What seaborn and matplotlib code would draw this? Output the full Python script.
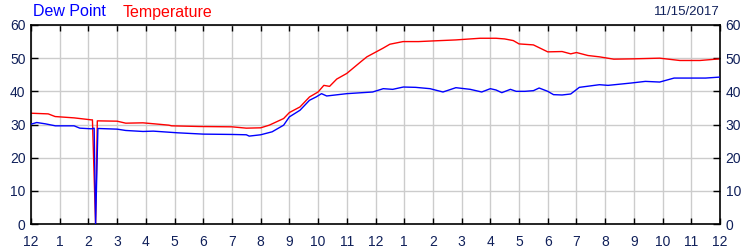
import matplotlib
matplotlib.use("Agg")
import matplotlib.pyplot as plt
import seaborn as sns
import pandas as pd

# ---- data (hours since midnight, values in °F) ----
dew_hours = [0.0, 0.2, 0.5, 0.85, 1.5, 1.7, 2.1, 2.2, 2.25, 2.33, 3.0, 3.3, 3.9, 4.26, 5.1,
             6.0, 7.0, 7.5, 7.6, 8.0, 8.4, 8.8, 9.0, 9.37, 9.7, 9.93, 10.12, 10.3, 11.0,
             11.9, 12.27, 12.6, 12.97, 13.4, 13.9, 14.35, 14.8, 15.3, 15.7, 16.0, 16.2,
             16.4, 16.7, 16.9, 17.2, 17.5, 17.7, 18.0, 18.2, 18.5, 18.8, 19.1, 19.8, 20.1,
             20.9, 21.4, 21.9, 22.4, 23.0, 23.5, 24.0]
dew_values = [30.1, 30.6, 30.2, 29.6, 29.6, 28.9, 28.7, 28.9, 0.0, 28.8, 28.6, 28.2, 27.9, 28.0,
              27.5, 27.1, 27.0, 26.9, 26.5, 26.9, 27.8, 29.8, 32.3, 34.3, 37.3, 38.3, 39.3,
              38.6, 39.3, 39.8, 40.8, 40.6, 41.3, 41.2, 40.8, 39.8, 41.1, 40.6, 39.8, 40.8,
              40.4, 39.6, 40.6, 40.0, 40.0, 40.2, 41.0, 40.0, 39.0, 38.9, 39.2, 41.2, 42.0,
              41.8, 42.5, 43.0, 42.8, 44.0, 44.0, 44.0, 44.3]

temp_hours = [0.0, 0.6, 0.84, 1.5, 2.1, 2.14, 2.25, 2.31, 3.0, 3.3, 3.9, 4.3, 4.8, 4.9, 5.85,
              7.0, 7.5, 8.0, 8.3, 8.8, 9.0, 9.37, 9.7, 10.0, 10.2, 10.4, 10.65, 11.0, 11.5,
              11.7, 12.26, 12.5, 12.96, 13.5, 14.0, 14.8, 15.3, 15.64, 16.2, 16.5, 16.8,
              17.0, 17.5, 18.0, 18.5, 18.8, 19.0, 19.4, 19.8, 20.3, 21.0, 21.9, 22.6,
              23.3, 24.0]
temp_values = [33.4, 33.2, 32.4, 32.0, 31.4, 31.4, 0.0, 31.1, 31.0, 30.4, 30.5, 30.2, 29.8, 29.6,
               29.4, 29.3, 28.9, 29.0, 29.8, 31.8, 33.6, 35.3, 38.3, 39.8, 41.8, 41.5, 43.7,
               45.4, 49.0, 50.4, 53.0, 54.2, 55.0, 55.0, 55.2, 55.5, 55.8, 56.0, 56.0, 55.8,
               55.3, 54.3, 54.0, 51.9, 52.0, 51.3, 51.7, 50.8, 50.4, 49.7, 49.8, 50.0, 49.3,
               49.3, 49.8]

x_ticks = list(range(0, 25))
x_tick_labels = ["12", "1", "2", "3", "4", "5", "6", "7", "8", "9", "10", "11",
                 "12", "1", "2", "3", "4", "5", "6", "7", "8", "9", "10", "11", "12"]
y_ticks = [0, 10, 20, 30, 40, 50, 60]
date_label = "11/15/2017"

dew_df = pd.DataFrame({"hour": dew_hours, "value": dew_values})
temp_df = pd.DataFrame({"hour": temp_hours, "value": temp_values})

sns.set_theme(style="white")
plt.rcParams["font.family"] = ["Liberation Sans", "DejaVu Sans"]

label_color = "#10205a"

fig = plt.figure(figsize=(7.5, 2.5), dpi=100)
ax = fig.add_axes([31 / 750, 26 / 250, 689 / 750, 199 / 250])

sns.lineplot(data=dew_df, x="hour", y="value", ax=ax, color="#0000ff", linewidth=1.0, zorder=3)
sns.lineplot(data=temp_df, x="hour", y="value", ax=ax, color="#ff0000", linewidth=1.0, zorder=2)

ax.set_xlim(0, 24)
ax.set_ylim(0, 60)
ax.set_xticks(x_ticks)
ax.set_xticklabels(x_tick_labels)
ax.set_yticks(y_ticks)
ax.set_xlabel("")
ax.set_ylabel("")
ax.grid(True, color="#cccccc", linewidth=1.0)
ax.set_axisbelow(True)

for s in ax.spines.values():
    s.set_color("black")
    s.set_linewidth(1.2)
    s.set_visible(True)

ax.tick_params(axis="x", which="both", direction="in", length=4, width=1, color="black",
               top=True, bottom=True, labelbottom=True, labeltop=False,
               labelsize=10, labelcolor=label_color, pad=8)
ax.tick_params(axis="y", which="both", direction="in", length=5, width=1, color="black",
               left=True, right=True, labelleft=True, labelright=True,
               labelsize=10, labelcolor=label_color, pad=4)

fig.text(33 / 750, 1 - 12 / 250, "Dew Point", color="#0000ff", fontsize=11.5, va="center", ha="left")
fig.text(123 / 750, 1 - 12 / 250, "Temperature", color="#ff0000", fontsize=11.5, va="center", ha="left")
fig.text(720 / 750, 1 - 12 / 250, date_label, color=label_color, fontsize=9.5, va="center", ha="right")

fig.savefig("out.png", dpi=100)
